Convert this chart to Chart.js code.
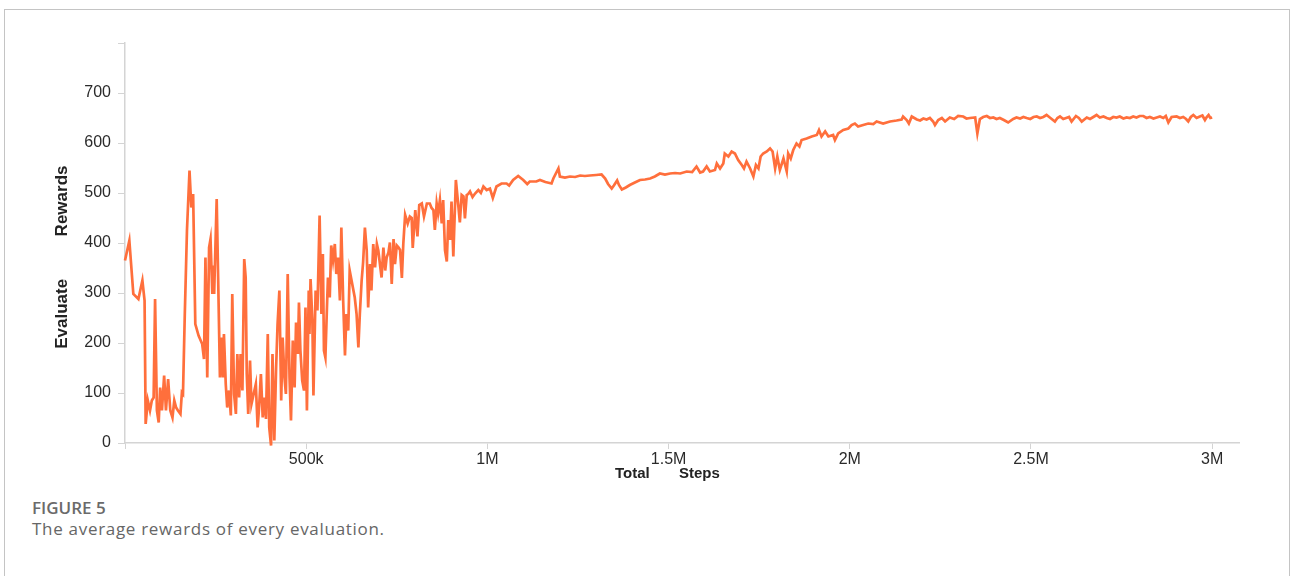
<!DOCTYPE html>
<html>
<head>
<meta charset="utf-8">
<script src="https://cdn.jsdelivr.net/npm/chart.js@4"></script>
<style>
  body { margin: 0; background: #fff; width: 1290px; height: 576px; overflow: hidden; position: relative; }
  #frame { position: absolute; left: 4px; top: 9px; width: 1284px; height: 600px; border: 1px solid #c4c4c4; border-bottom: none; }
  #chartWrap { position: absolute; left: 0; top: 0; width: 1290px; height: 490px; }
  .cap { position: absolute; left: 32px; font-family: "Open Sans", sans-serif; color: #6a6a6a; }
  #figNo { top: 496px; font-size: 17px; font-weight: 600; }
  #figText { top: 517px; font-size: 17px; letter-spacing: 0.7px; color: #666; }
</style>
</head>
<body>
<div id="frame"></div>
<div id="chartWrap"><canvas id="myChart" width="1290" height="490"></canvas></div>
<div class="cap" id="figNo">FIGURE 5</div>
<div class="cap" id="figText">The average rewards of every evaluation.</div>
<script>
// total steps, in thousands
const stepsK = [
  0, 12, 23, 37, 48, 54, 57, 63, 69, 74, 79, 83, 88, 93, 97, 102, 108, 113, 119, 125,
  131, 136, 141, 146, 153, 157, 160, 165, 171, 178, 183, 188, 194, 203, 213, 218, 222, 227, 232, 236,
  241, 244, 246, 253, 257, 262, 267, 270, 273, 278, 282, 287, 292, 296, 301, 306, 310, 315, 319, 324,
  329, 333, 336, 340, 345, 349, 355, 361, 366, 370, 375, 380, 384, 389, 394, 398, 403, 407, 412, 417,
  421, 426, 431, 435, 440, 444, 449, 454, 458, 463, 468, 472, 477, 480, 484, 489, 494, 498, 502, 507,
  509, 512, 517, 520, 526, 531, 537, 542, 546, 549, 553, 557, 560, 565, 569, 574, 579, 583, 588, 593,
  597, 602, 607, 611, 616, 620, 627, 634, 639, 644, 648, 653, 657, 662, 667, 671, 676, 680, 685, 690,
  695, 699, 708, 713, 718, 722, 727, 731, 736, 741, 745, 750, 755, 759, 764, 768, 773, 780, 786, 791,
  794, 801, 807, 812, 819, 825, 833, 841, 846, 851, 855, 860, 864, 869, 874, 878, 883, 888, 892, 897,
  901, 906, 913, 920, 924, 929, 934, 938, 943, 947, 952, 959, 966, 975, 982, 989, 998, 1007, 1015, 1025,
  1039, 1053, 1060, 1071, 1085, 1099, 1110, 1117, 1135, 1145, 1160, 1177, 1182, 1196, 1200, 1214, 1228, 1242, 1256, 1269,
  1283, 1300, 1315, 1325, 1333, 1343, 1349, 1358, 1363, 1371, 1382, 1393, 1407, 1421, 1435, 1449, 1462, 1476, 1490, 1504,
  1518, 1532, 1550, 1565, 1577, 1587, 1595, 1605, 1614, 1628, 1633, 1642, 1651, 1655, 1665, 1674, 1683, 1692, 1702, 1708,
  1715, 1725, 1734, 1741, 1748, 1754, 1761, 1771, 1780, 1787, 1794, 1800, 1807, 1817, 1826, 1830, 1837, 1844, 1853, 1861,
  1867, 1881, 1895, 1909, 1915, 1922, 1932, 1941, 1954, 1959, 1968, 1982, 1996, 2005, 2014, 2023, 2037, 2051, 2065, 2074,
  2092, 2111, 2129, 2143, 2147, 2157, 2163, 2171, 2185, 2194, 2203, 2212, 2221, 2230, 2235, 2244, 2254, 2263, 2276, 2288,
  2299, 2313, 2322, 2332, 2346, 2352, 2359, 2368, 2378, 2387, 2396, 2405, 2414, 2425, 2437, 2451, 2460, 2470, 2479, 2488,
  2498, 2507, 2516, 2525, 2534, 2543, 2552, 2566, 2573, 2580, 2589, 2597, 2605, 2612, 2624, 2632, 2640, 2654, 2663, 2672,
  2681, 2690, 2700, 2709, 2718, 2727, 2736, 2745, 2755, 2764, 2773, 2782, 2791, 2800, 2810, 2819, 2828, 2838, 2847, 2856,
  2865, 2872, 2879, 2888, 2902, 2911, 2920, 2928, 2934, 2941, 2948, 2957, 2966, 2973, 2980, 2985, 2990, 2995, 3000
];

const rewards = [
  365, 405, 298, 288, 325, 285, 38, 85, 65, 85, 91, 288, 65, 41, 111, 65, 135, 65, 128, 65,
  51, 85, 71, 65, 58, 101, 98, 258, 425, 545, 471, 498, 238, 215, 198, 168, 371, 131, 391, 408,
  298, 355, 298, 488, 331, 131, 211, 131, 218, 118, 71, 105, 55, 298, 98, 58, 178, 91, 178, 105,
  368, 331, 138, 58, 165, 78, 98, 118, 31, 71, 138, 51, 91, 48, 218, 31, -5, 178, 5, 151,
  238, 305, 85, 211, 131, 98, 338, 131, 45, 205, 111, 241, 178, 281, 185, 125, 105, 271, 65, 305,
  218, 328, 245, 95, 305, 265, 455, 258, 378, 185, 171, 265, 331, 291, 395, 365, 398, 338, 371, 285,
  431, 285, 175, 258, 225, 345, 318, 291, 258, 191, 258, 325, 361, 431, 385, 271, 358, 305, 398, 351,
  398, 385, 331, 391, 345, 371, 381, 401, 318, 408, 358, 395, 391, 386, 330, 399, 456, 439, 453, 450,
  390, 466, 413, 476, 479, 453, 479, 479, 470, 466, 426, 479, 459, 486, 439, 486, 386, 363, 446, 406,
  483, 373, 526, 473, 441, 496, 493, 449, 496, 498, 503, 492, 499, 506, 500, 513, 506, 509, 490, 513,
  519, 519, 515, 526, 534, 526, 518, 523, 523, 526, 522, 519, 529, 549, 533, 531, 533, 532, 535, 534,
  535, 536, 537, 529, 518, 509, 515, 525, 516, 507, 511, 516, 521, 526, 527, 529, 533, 539, 537, 539,
  540, 539, 543, 542, 553, 541, 543, 553, 543, 546, 559, 549, 559, 579, 573, 583, 579, 566, 556, 549,
  563, 549, 533, 556, 549, 573, 579, 583, 589, 583, 549, 573, 546, 569, 543, 579, 569, 586, 599, 593,
  606, 609, 613, 616, 626, 613, 623, 613, 616, 606, 619, 626, 629, 636, 639, 633, 636, 639, 638, 643,
  639, 643, 645, 647, 653, 646, 639, 653, 647, 645, 649, 647, 650, 643, 636, 646, 650, 643, 651, 648,
  654, 653, 649, 650, 651, 619, 648, 652, 654, 650, 651, 648, 650, 646, 641, 648, 651, 649, 652, 650,
  648, 652, 653, 650, 652, 656, 651, 643, 650, 653, 648, 650, 652, 643, 654, 650, 643, 651, 648, 652,
  656, 651, 653, 650, 648, 652, 651, 653, 649, 651, 650, 653, 651, 654, 654, 650, 652, 649, 651, 653,
  650, 654, 641, 652, 653, 650, 652, 648, 643, 652, 656, 650, 653, 655, 646, 652, 656, 650, 651
];

const xTicks = [0, 500, 1000, 1500, 2000, 2500, 3000];
const xTickLabels = ['', '500k', '1M', '1.5M', '2M', '2.5M', '3M'];
const yTicks = [0, 100, 200, 300, 400, 500, 600, 700, 800];
const yTickLabels = ['0', '100', '200', '300', '400', '500', '600', '700', ''];

const points = stepsK.map((s, i) => ({ x: s, y: rewards[i] }));

const ctx = document.getElementById('myChart').getContext('2d');

const myChart = new Chart(ctx, {
  type: 'line',
  data: {
    datasets: [{
      label: 'Rewards',
      data: points,
      borderColor: '#ff6f3c',
      borderWidth: 2.7,
      pointRadius: 0,
      tension: 0,
      clip: false
    }]
  },
  options: {
    responsive: false,
    animation: false,
    layout: { padding: { left: 40, top: 43, right: 51, bottom: 0 } },
    plugins: { legend: { display: false }, tooltip: { enabled: false } },
    scales: {
      x: {
        type: 'linear',
        min: 0,
        max: 3074,
        afterFit: (scale) => { scale.height = 47; },
        afterBuildTicks: (scale) => { scale.ticks = xTicks.map(v => ({ value: v })); },
        ticks: {
          color: '#2a2a2a',
          font: { family: 'Liberation Sans, Arial', size: 16 },
          padding: 1,
          maxRotation: 0,
          callback: (v) => xTickLabels[xTicks.indexOf(v)]
        },
        grid: { drawOnChartArea: false, tickLength: 6, color: '#d4d4d4' },
        border: { color: '#d4d4d4', width: 1.5 },
        title: {
          display: true,
          text: 'Total       Steps       ',
          color: '#222',
          font: { family: 'Liberation Sans, Arial', size: 15, weight: 'bold' },
          padding: { top: 0, bottom: 7 }
        }
      },
      y: {
        min: 0,
        max: 800,
        afterFit: (scale) => { scale.width = 85; },
        afterBuildTicks: (scale) => { scale.ticks = yTicks.map(v => ({ value: v })); },
        ticks: {
          color: '#2a2a2a',
          font: { family: 'Liberation Sans, Arial', size: 16 },
          padding: 7,
          callback: (v) => yTickLabels[yTicks.indexOf(v)]
        },
        grid: { drawOnChartArea: false, tickLength: 7, color: '#d4d4d4' },
        border: { color: '#d4d4d4', width: 1.5 },
        title: {
          display: true,
          text: 'Evaluate         Rewards      ',
          color: '#222',
          font: { family: 'Liberation Sans, Arial', size: 17, weight: 'bold' },
          padding: { top: 12, bottom: 0 }
        }
      }
    }
  }
});
</script>
</body>
</html>
